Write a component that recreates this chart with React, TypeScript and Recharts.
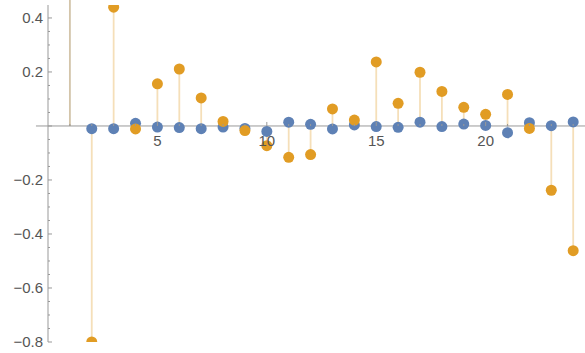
import {
  ComposedChart, Scatter, XAxis, YAxis, ErrorBar, ReferenceLine, ReferenceDot,
} from "recharts"

// lag index shared by both series
const LAGS = [1, 2, 3, 4, 5, 6, 7, 8, 9, 10, 11, 12, 13, 14, 15, 16, 17, 18, 19, 20, 21, 22, 23, 24]

const SERIES_BLUE = [
  1, -0.010, -0.010, 0.010, -0.004, -0.006, -0.010, -0.004, -0.009, -0.020, 0.014, 0.006,
  -0.011, 0.004, -0.002, -0.005, 0.014, -0.002, 0.007, 0.002, -0.025, 0.012, 0.001, 0.015,
]

const SERIES_ORANGE = [
  1, -0.80, 0.44, -0.011, 0.156, 0.211, 0.104, 0.017, -0.017, -0.073, -0.116, -0.106,
  0.063, 0.022, 0.237, 0.084, 0.199, 0.128, 0.069, 0.043, 0.117, -0.009, -0.238, -0.462,
]

const X_MAJOR = [5, 10, 15, 20]
const X_MINOR = [1, 2, 3, 4, 6, 7, 8, 9, 11, 12, 13, 14, 16, 17, 18, 19, 21, 22, 23, 24]
const Y_MAJOR = [-0.8, -0.6, -0.4, -0.2, 0, 0.2, 0.4]
const Y_MINOR = [
  -0.75, -0.7, -0.65, -0.55, -0.5, -0.45, -0.35, -0.3, -0.25,
  -0.15, -0.1, -0.05, 0.05, 0.1, 0.15, 0.25, 0.3, 0.35,
]

const C = {
  blue: "#5E81B5",
  orange: "#E19C24",
  blueStem: "rgba(94, 129, 181, 0.3)",
  orangeStem: "rgba(225, 156, 36, 0.32)",
  axis: "#999999",
  text: "#555555",
}

const FONT = "'Liberation Sans', Arial, sans-serif"

// stem from the axis to the value, as [below, above] error amounts
function stem(v: number): [number, number] {
  return v >= 0 ? [v, 0] : [0, -v]
}

const blueRows = LAGS.map((x, i) => ({ x, y: SERIES_BLUE[i], stem: stem(SERIES_BLUE[i]) }))
const orangeRows = LAGS.map((x, i) => ({ x, y: SERIES_ORANGE[i], stem: stem(SERIES_ORANGE[i]) }))

const dot = (color: string) => (p: any) => <circle cx={p.cx} cy={p.cy} r={5.5} fill={color} />
const none = () => <g />

function fmtY(v: number) {
  const s = Math.abs(v).toFixed(1)
  return v < 0 ? `\u2212${s}` : s
}

function YTick({ x, y, payload }: any) {
  const v = payload.value
  const major = Y_MAJOR.includes(v)
  return (
    <g>
      <line x1={x} x2={x + (major ? 4 : 2)} y1={y} y2={y} stroke={C.axis} strokeWidth={1} />
      {major && v !== 0 && (
        <text x={x - 5} y={y} dy="0.36em" textAnchor="end" fill={C.text} fontSize={15} fontFamily={FONT}>
          {fmtY(v)}
        </text>
      )}
    </g>
  )
}

const XMajorTick = (t: number) => (p: any) => (
  <g>
    <line x1={p.cx} x2={p.cx} y1={p.cy} y2={p.cy - 4} stroke={C.axis} strokeWidth={1} />
    <text x={p.cx} y={p.cy + 20} textAnchor="middle" fill={C.text} fontSize={15} fontFamily={FONT}>
      {t}
    </text>
  </g>
)

const XMinorTick = (p: any) => (
  <line x1={p.cx} x2={p.cx} y1={p.cy} y2={p.cy - 2} stroke={C.axis} strokeWidth={1} />
)

export default function App() {
  return (
    <div style={{ position: "fixed", left: 0, top: 0, background: "#fff" }}>
      <ComposedChart width={585} height={353} margin={{ top: 5, right: 0, bottom: 11, left: 0 }}>
        <XAxis type="number" dataKey="x" domain={[0, 24.54]} allowDataOverflow hide />
        <YAxis
          type="number"
          dataKey="y"
          domain={[-0.8, 0.448]}
          allowDataOverflow
          width={48}
          ticks={[...Y_MAJOR, ...Y_MINOR].sort((a, b) => a - b)}
          interval={0}
          tickSize={0}
          tickMargin={0}
          tickLine={false}
          axisLine={{ stroke: C.axis, strokeWidth: 1 }}
          tick={<YTick />}
        />

        <ReferenceLine
          segment={[{ x: -0.55, y: 0 }, { x: 24.54, y: 0 }]}
          ifOverflow="visible"
          stroke={C.axis}
          strokeWidth={1}
          zIndex={50}
        />

        {/* stems first, so every dot sits on top */}
        <Scatter data={blueRows} shape={none} isAnimationActive={false}>
          <ErrorBar dataKey="stem" direction="y" width={0} stroke={C.blueStem} strokeWidth={1.8} />
        </Scatter>
        <Scatter data={orangeRows} shape={none} isAnimationActive={false}>
          <ErrorBar dataKey="stem" direction="y" width={0} stroke={C.orangeStem} strokeWidth={1.8} />
        </Scatter>

        <Scatter data={blueRows} shape={dot(C.blue)} isAnimationActive={false} />
        <Scatter data={orangeRows} shape={dot(C.orange)} isAnimationActive={false} />

        {X_MINOR.map(t => (
          <ReferenceDot key={`m${t}`} x={t} y={0} r={0} shape={XMinorTick} zIndex={2000} />
        ))}
        {X_MAJOR.map(t => (
          <ReferenceDot key={`M${t}`} x={t} y={0} r={0} shape={XMajorTick(t)} zIndex={2000} />
        ))}
      </ComposedChart>
    </div>
  )
}
